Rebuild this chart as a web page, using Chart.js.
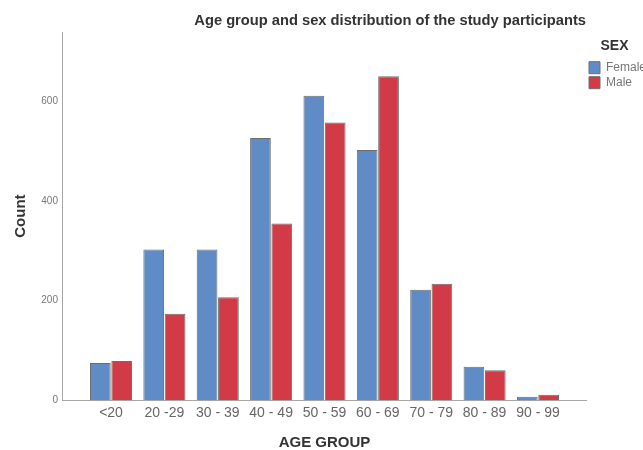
<!DOCTYPE html>
<html>
<head>
<meta charset="utf-8">
<script src="https://cdn.jsdelivr.net/npm/chart.js@4/dist/chart.umd.min.js"></script>
<style>
html,body{margin:0;padding:0;background:#fff;}
#wrap{width:643px;height:450px;position:relative;}
</style>
</head>
<body>
<div id="wrap"><canvas id="c"></canvas></div>
<script>
const ageGroups = ['<20', '20 -29', '30 - 39', '40 - 49', '50 - 59', '60 - 69', '70 - 79', '80 - 89', '90 - 99'];
const femaleCounts = [75, 303, 303, 527, 612, 503, 222, 67, 7];
const maleCounts = [79, 174, 207, 355, 558, 651, 234, 60, 11];
const yTicks = [0, 200, 400, 600];
const seriesNames = ['Female', 'Male'];

const toPoints = arr => arr.map((v, i) => ({x: i, y: v}));

new Chart(document.getElementById('c'), {
  type: 'bar',
  data: {
    datasets: [
      {label: seriesNames[0], data: toPoints(femaleCounts), backgroundColor: '#5f8cc7', borderColor: '#6e6e6e', borderWidth: 1},
      {label: seriesNames[1], data: toPoints(maleCounts), backgroundColor: '#d23b45', borderColor: '#6e6e6e', borderWidth: 1}
    ]
  },
  options: {
    responsive: true,
    maintainAspectRatio: false,
    animation: false,
    categoryPercentage: 0.8,
    barPercentage: 0.97,
    layout: {padding: {left: 0, right: 0, top: 0, bottom: 0}},
    plugins: {
      title: {
        display: true,
        text: 'Age group and sex distribution of the study participants',
        align: 'end',
        fullSize: false,
        color: '#333',
        font: {family: 'Liberation Sans, Arial, sans-serif', size: 14.7, weight: 'bold', lineHeight: 1.2},
        padding: {top: 12.2, bottom: 2.2}
      },
      legend: {
        position: 'right',
        align: 'start',
        maxWidth: 57,
        title: {
          display: true,
          text: 'SEX',
          color: '#333',
          font: {family: 'Liberation Sans, Arial, sans-serif', size: 14, weight: 'bold', lineHeight: 1.2},
          padding: {top: 39.5, bottom: 2.4}
        },
        labels: {
          boxWidth: 11,
          boxHeight: 12,
          padding: 3,
          color: '#777',
          font: {family: 'Liberation Sans, Arial, sans-serif', size: 12}
        }
      },
      tooltip: {enabled: false}
    },
    scales: {
      x: {
        type: 'linear',
        min: -0.9,
        max: 8.9,
        offset: false,
        afterBuildTicks: s => { s.ticks = ageGroups.map((_, i) => ({value: i})); },
        grid: {display: false, drawTicks: false},
        border: {display: true, color: '#a6a6a6', width: 1},
        ticks: {
          callback: v => ageGroups[v] !== undefined ? ageGroups[v] : '',
          autoSkip: false, maxRotation: 0, minRotation: 0,
          padding: 5,
          color: '#666',
          font: {family: 'Liberation Sans, Arial, sans-serif', size: 14, lineHeight: 1.2}
        },
        title: {
          display: true,
          text: 'AGE GROUP',
          color: '#333',
          font: {family: 'Liberation Sans, Arial, sans-serif', size: 15, weight: 'bold', lineHeight: 1},
          padding: {top: 8, bottom: 0}
        }
      },
      y: {
        min: 0,
        max: 740,
        afterBuildTicks: s => { s.ticks = yTicks.map(v => ({value: v})); },
        grid: {display: false, drawTicks: false},
        border: {display: true, color: '#a6a6a6', width: 1},
        ticks: {
          padding: 5,
          color: '#777',
          font: {family: 'Liberation Sans, Arial, sans-serif', size: 10}
        },
        title: {
          display: true,
          text: 'Count',
          color: '#333',
          font: {family: 'Liberation Sans, Arial, sans-serif', size: 15, weight: 'bold', lineHeight: 1},
          padding: {top: 13, bottom: 8.3}
        }
      }
    }
  }
});
</script>
</body>
</html>
